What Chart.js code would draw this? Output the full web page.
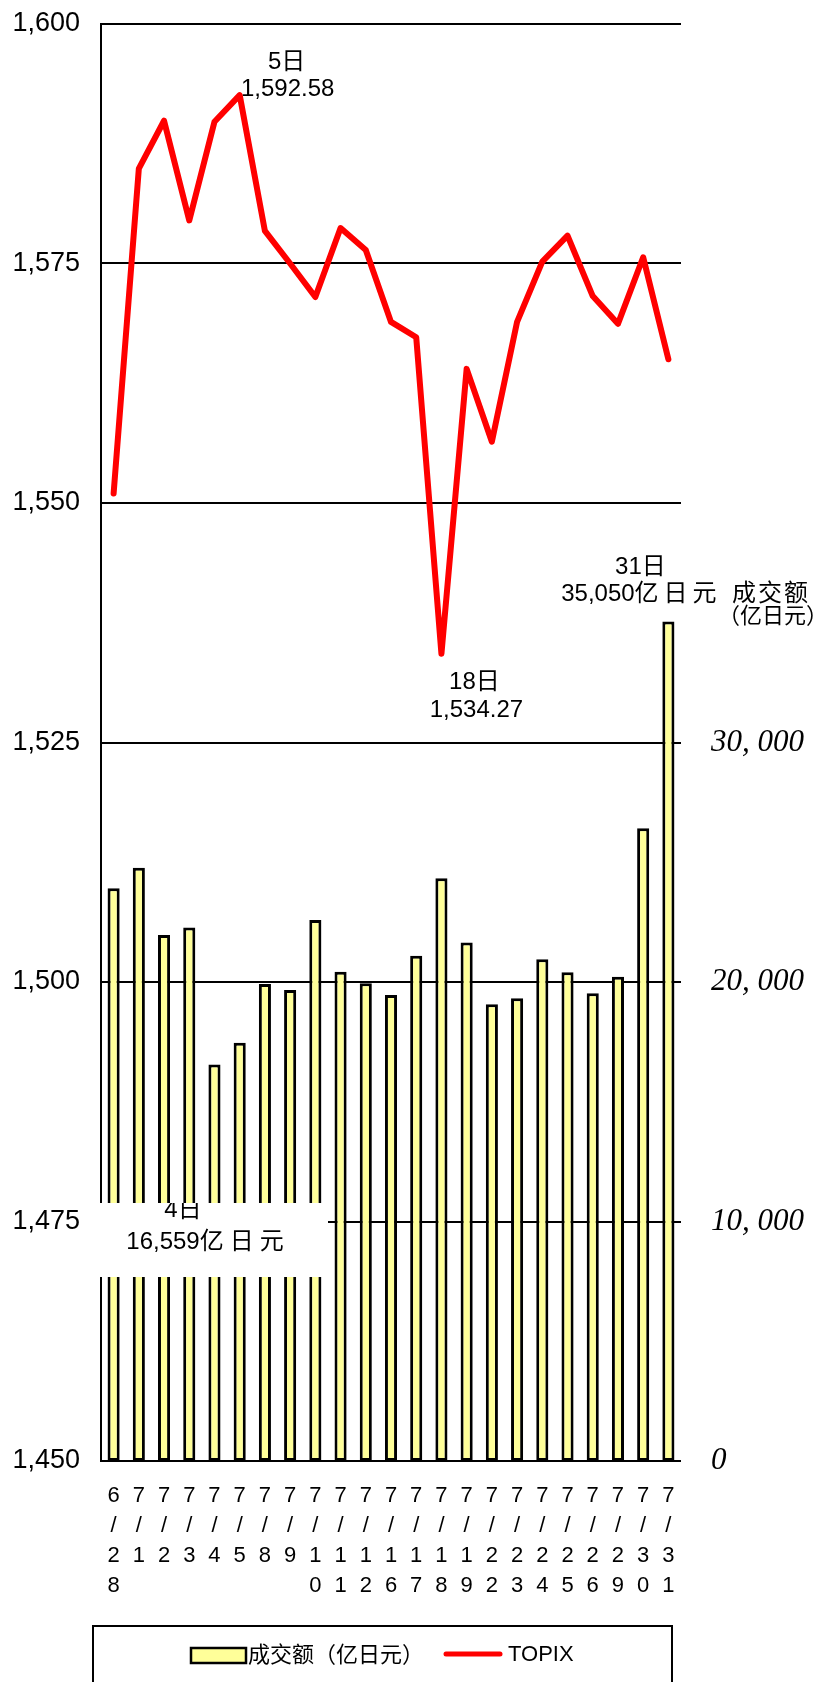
<!DOCTYPE html>
<html>
<head>
<meta charset="utf-8">
<script src="https://cdn.jsdelivr.net/npm/chart.js@4/dist/chart.umd.min.js"></script>
<style>
  html, body { margin: 0; padding: 0; background: #fff; }
  #wrap { width: 824px; height: 1682px; }
</style>
</head>
<body>
<div id="wrap"><canvas id="chart" width="824" height="1682"></canvas></div>
<script>
// trading days
const dates = ['6/28', '7/1', '7/2', '7/3', '7/4', '7/5', '7/8', '7/9', '7/10', '7/11', '7/12',
    '7/16', '7/17', '7/18', '7/19', '7/22', '7/23', '7/24', '7/25', '7/26', '7/29', '7/30', '7/31'];

// 成交额 (亿日元)
const turnover = [23910, 24770, 21960, 22280, 16559, 17460, 19920, 19670, 22590, 20430, 19950,
    19460, 21100, 24330, 21650, 19070, 19320, 20950, 20410, 19530, 20220, 26420, 35050];

// TOPIX close
const topix = [1551.0, 1584.9, 1589.9, 1579.5, 1589.8, 1592.58, 1578.4, 1575.0, 1571.5, 1578.7, 1576.4,
    1568.9, 1567.3, 1534.27, 1564.0, 1556.4, 1568.9, 1575.2, 1577.9, 1571.6, 1568.7, 1575.65, 1565.0];

const leftMin = 1450, leftMax = 1600, leftStep = 25;
const rightMax = 60000, rightStep = 10000, rightShownMax = 30000;

const SANS = '"Liberation Sans", Arial, "Noto Sans CJK SC", sans-serif';
const CJK = '"Liberation Sans", "Noto Sans CJK SC", sans-serif';

// draws a mixed latin/CJK string centred on cx, CJK chars get extra spacing
function drawMixed(ctx, text, cx, cy, size, cjkGap) {
    const runs = text.match(/[\x00-\x7F]+|[^\x00-\x7F]+/g);
    let total = 0;
    const widths = runs.map(r => {
        ctx.font = size + 'px ' + CJK;
        ctx.letterSpacing = /[^\x00-\x7F]/.test(r) ? cjkGap + 'px' : '0px';
        const w = ctx.measureText(r).width;
        total += w;
        return w;
    });
    let x = cx - total / 2;
    ctx.textAlign = 'left';
    ctx.textBaseline = 'middle';
    runs.forEach((r, i) => {
        ctx.font = size + 'px ' + CJK;
        ctx.letterSpacing = /[^\x00-\x7F]/.test(r) ? cjkGap + 'px' : '0px';
        ctx.fillText(r, x, cy);
        x += widths[i];
    });
    ctx.letterSpacing = '0px';
}

// y axes: fixed width, and no extra top/bottom room for the tick labels
function fixWidth(w) {
    return function (scale) {
        scale.width = w;
        scale.paddingTop = 0;
        scale.paddingBottom = 0;
    };
}

const notesPlugin = {
    id: 'notes',
    afterDatasetsDraw(chart) {
        const ctx = chart.ctx;
        const xs = chart.scales.x, yl = chart.scales.y, yr = chart.scales.y2;
        ctx.save();
        ctx.fillStyle = '#000';

        // 5日 high
        const hx = xs.getPixelForValue(5), hy = yl.getPixelForValue(topix[5]);
        drawMixed(ctx, '5日', hx + 47, hy - 33, 24, 0);
        drawMixed(ctx, '1,592.58', hx + 48, hy - 6, 24, 0);

        // 18日 low
        const lx = xs.getPixelForValue(13), ly = yl.getPixelForValue(topix[13]);
        drawMixed(ctx, '18日', lx + 33, ly + 29, 24, 0);
        drawMixed(ctx, '1,534.27', lx + 35, ly + 57, 24, 0);

        // 31日 turnover
        const tx = xs.getPixelForValue(22), ty = yr.getPixelForValue(turnover[22]);
        drawMixed(ctx, '31日', tx - 28, ty - 54, 24, 0);
        drawMixed(ctx, '35,050亿日元', tx - 27, ty - 27, 24, 5);

        // right axis title
        drawMixed(ctx, '成交额', 771, 594, 24, 2);
        drawMixed(ctx, '（亿日元）', 773, 617, 22, 0);

        // 4日 turnover, white box over the bars
        ctx.fillStyle = '#fff';
        ctx.fillRect(99, 1203, 229, 74);
        ctx.save();
        ctx.beginPath();
        ctx.rect(99, 1203, 229, 74);
        ctx.clip();
        ctx.fillStyle = '#000';
        drawMixed(ctx, '4日', 183, 1210, 24, 0);
        ctx.restore();
        ctx.fillStyle = '#000';
        drawMixed(ctx, '16,559亿日元', 208, 1242, 24, 6);
        ctx.restore();
    },
    afterDraw(chart) {
        // legend box at the bottom
        const ctx = chart.ctx;
        const bar = chart.data.datasets[1], line = chart.data.datasets[0];
        ctx.save();
        ctx.strokeStyle = '#000';
        ctx.lineWidth = 2;
        ctx.strokeRect(93, 1626, 579, 80);

        ctx.fillStyle = bar.backgroundColor;
        ctx.fillRect(191, 1648, 55, 15);
        ctx.lineWidth = 2.5;
        ctx.strokeRect(191, 1648, 55, 15);

        ctx.fillStyle = '#000';
        ctx.font = '22px ' + CJK;
        ctx.textAlign = 'left';
        ctx.textBaseline = 'middle';
        ctx.fillText(bar.label, 248, 1656);

        ctx.strokeStyle = line.borderColor;
        ctx.lineWidth = 5;
        ctx.lineCap = 'round';
        ctx.beginPath();
        ctx.moveTo(446, 1654);
        ctx.lineTo(500, 1654);
        ctx.stroke();

        ctx.fillStyle = '#000';
        ctx.font = '22px ' + SANS;
        ctx.fillText(line.label, 508, 1655);
        ctx.restore();
    }
};

new Chart(document.getElementById('chart'), {
    type: 'bar',
    data: {
        labels: dates.map(d => d.split('')),
        datasets: [{
            type: 'line',
            label: 'TOPIX',
            data: topix,
            yAxisID: 'y',
            borderColor: '#FF0000',
            borderWidth: 6,
            pointRadius: 0,
            tension: 0,
            borderJoinStyle: 'round',
            borderCapStyle: 'round',
            order: 0
        }, {
            type: 'bar',
            label: '成交额（亿日元）',
            data: turnover,
            yAxisID: 'y2',
            backgroundColor: '#FFFF99',
            borderColor: '#000',
            borderWidth: 3,
            borderSkipped: false,
            barPercentage: 0.48,
            categoryPercentage: 1,
            order: 1
        }]
    },
    options: {
        responsive: false,
        animation: false,
        layout: { autoPadding: false, padding: { top: 24, left: 0, right: 0, bottom: 0 } },
        plugins: {
            legend: { display: false },
            tooltip: { enabled: false }
        },
        scales: {
            x: {
                grid: { display: false },
                border: { display: false },
                ticks: {
                    autoSkip: false,
                    maxRotation: 0,
                    minRotation: 0,
                    padding: 12,
                    color: '#000',
                    font: { family: SANS, size: 22, lineHeight: '30px' }
                },
                afterFit(scale) { scale.height = 221; }
            },
            y: {
                position: 'left',
                min: leftMin,
                max: leftMax,
                grid: { color: '#000', lineWidth: 2, drawTicks: false },
                border: { display: true, color: '#000', width: 2 },
                ticks: {
                    stepSize: leftStep,
                    padding: 21,
                    color: '#000',
                    font: { family: SANS, size: 27 },
                    callback: v => v.toLocaleString('en-US')
                },
                afterFit: fixWidth(101)
            },
            y2: {
                position: 'right',
                min: 0,
                max: rightMax,
                grid: { display: false },
                border: { display: false },
                ticks: {
                    stepSize: rightStep,
                    padding: 22,
                    color: '#000',
                    font: { family: '"Liberation Serif", "Times New Roman", serif', size: 31, style: 'italic' },
                    callback: v => v <= rightShownMax ? v.toLocaleString('en-US').replace(',', ', ') : ''
                },
                afterFit: fixWidth(143)
            }
        }
    },
    plugins: [notesPlugin]
});
</script>
</body>
</html>
